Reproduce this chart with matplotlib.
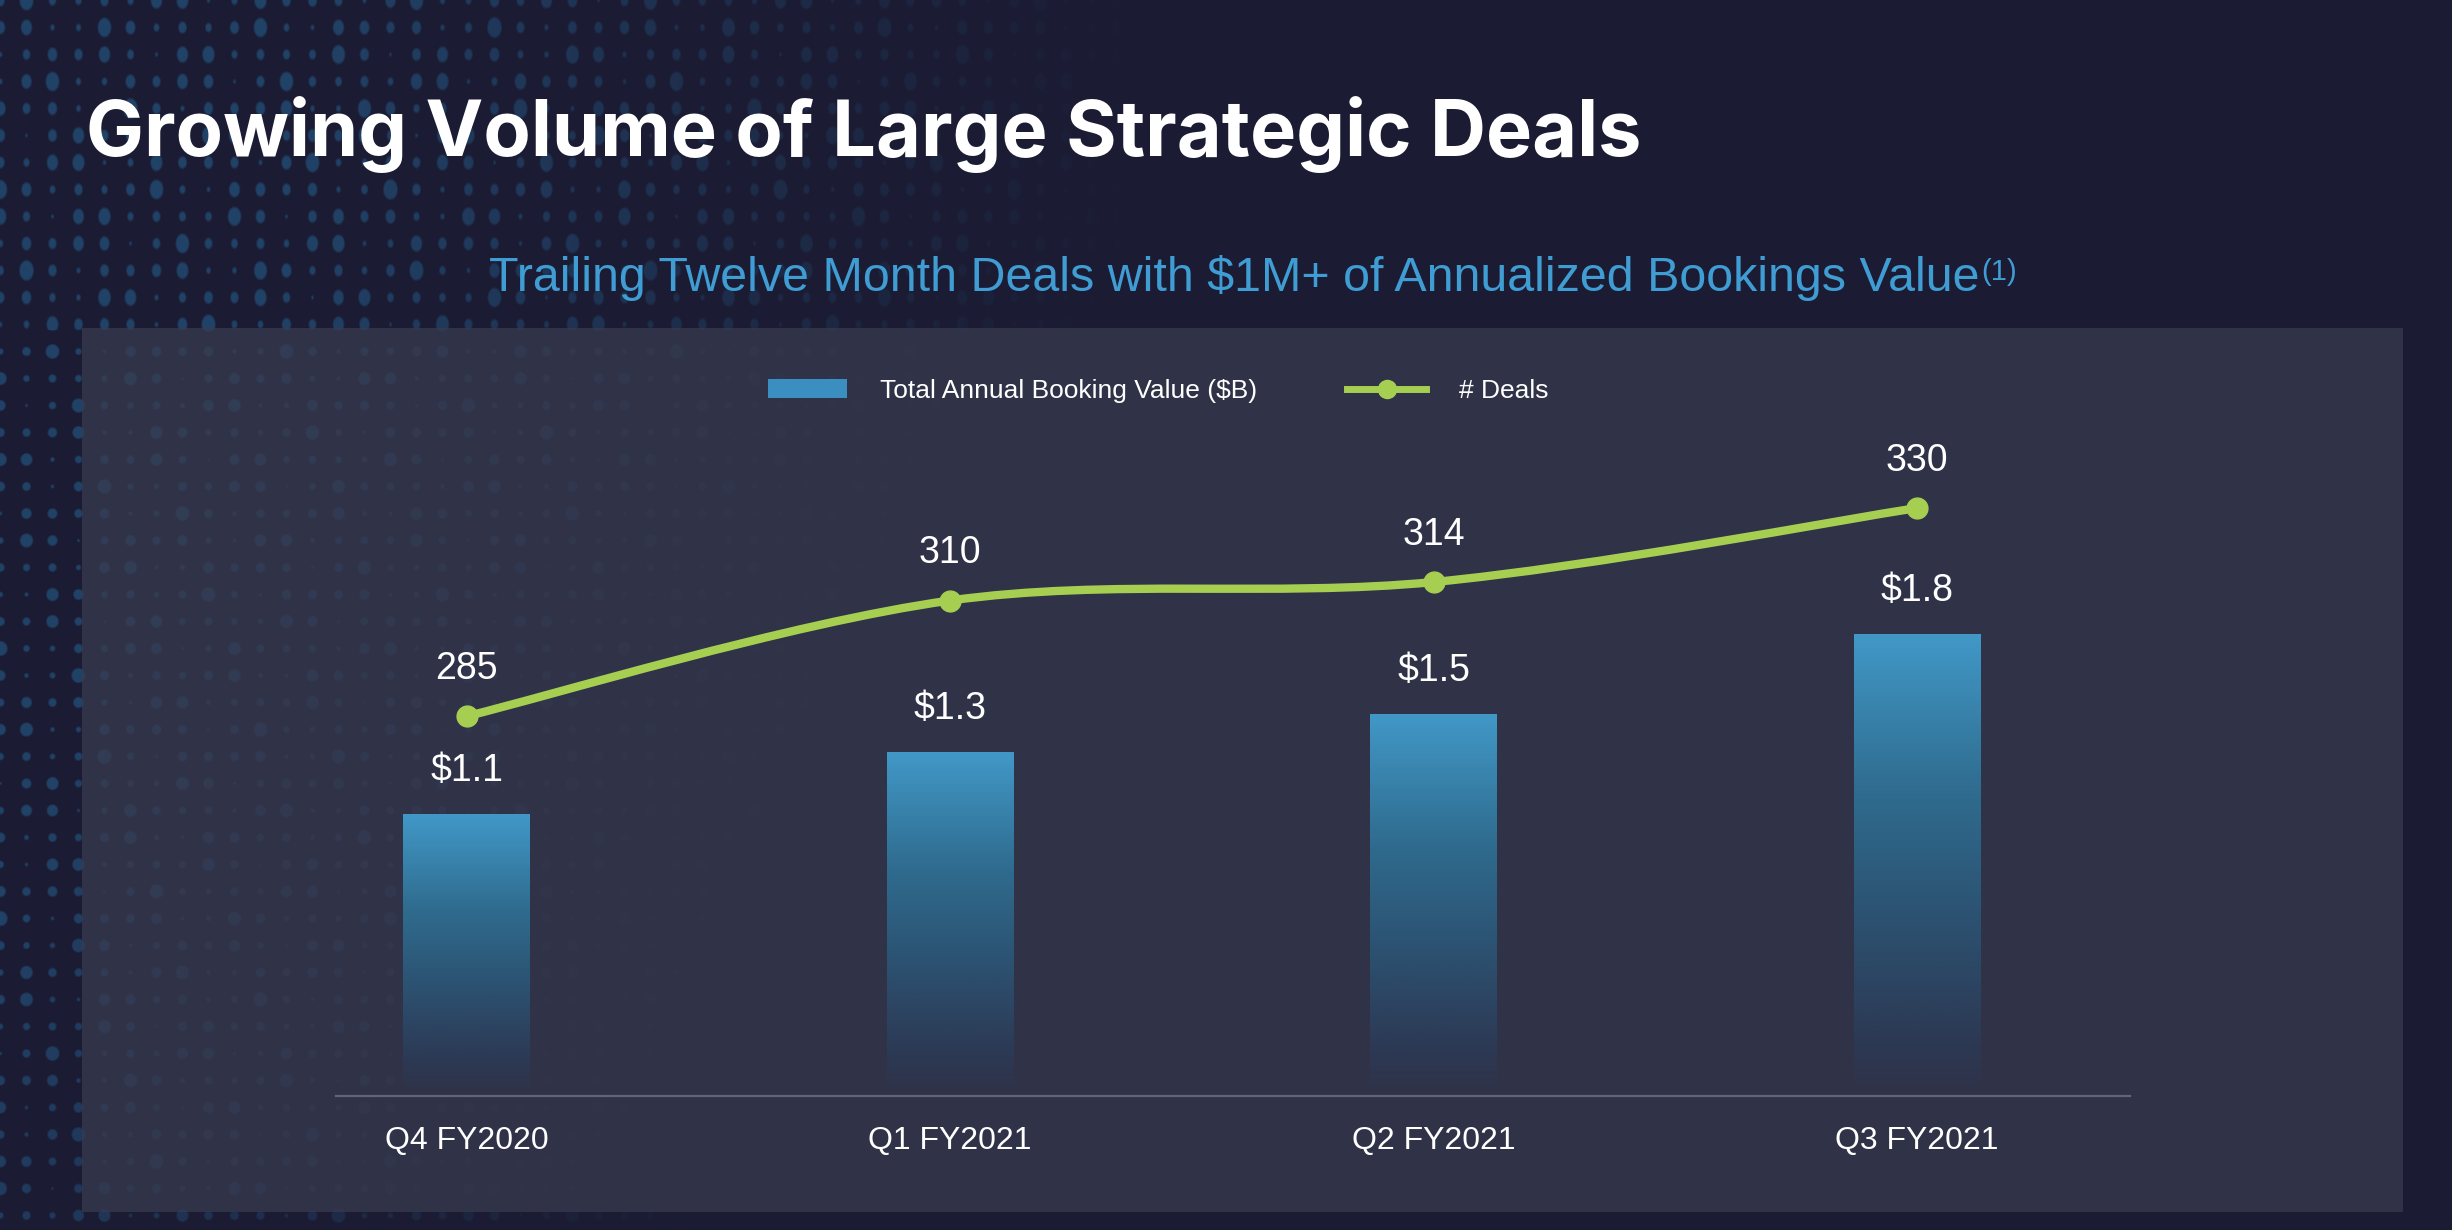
import numpy as np
import matplotlib
matplotlib.use("Agg")
import matplotlib.pyplot as plt
from matplotlib.patches import Rectangle, Patch, PathPatch
from matplotlib.lines import Line2D
from matplotlib.path import Path
from matplotlib.colors import LinearSegmentedColormap

# ---------------- data ----------------
categories = ["Q4 FY2020", "Q1 FY2021", "Q2 FY2021", "Q3 FY2021"]
booking_value = [1.1, 1.34, 1.49, 1.8]          # $B (bar heights as drawn)
bar_labels = ["$1.1", "$1.3", "$1.5", "$1.8"]
deals = [285, 310, 314, 330]

title = "Growing Volume of Large Strategic Deals"
subtitle = "Trailing Twelve Month Deals with $1M+ of Annualized Bookings Value"
legend_labels = ["Total Annual Booking Value ($B)", "# Deals"]

# ---------------- style ----------------
BG = np.array([27, 28, 51]) / 255.0
PANEL = "#393b4f"
GREEN = "#a6cf52"
BLUE_TOP = "#4198c7"
SUB_BLUE = "#3f9dd3"
W, H = 2452, 1230

fig = plt.figure(figsize=(W / 100, H / 100), dpi=100)
fig.patch.set_facecolor(BG)

# decorative dotted background texture
bg_ax = fig.add_axes([0, 0, 1, 1], zorder=-10)
X, Y = np.meshgrid(np.arange(W, dtype=float), np.arange(H, dtype=float))
sx, sy = 26.0, 27.0
gi = np.round(X / sx)
gj = np.round(Y / sy)
dx = X - gi * sx
dy = (Y - gj * sy) * np.where(Y < 330, 0.7, 0.95)
rad = 2.0 + 6.0 * (0.5 + 0.5 * np.sin(gi * 1.7 + gj * 0.6) * np.cos(gj * 1.3 - gi * 0.4))
dist = np.sqrt(dx ** 2 + dy ** 2)
mask = np.clip((rad - dist) / 2.0, 0, 1)
fade = np.clip((1150 - X - 0.45 * np.clip(Y - 250, 0, None)) / 850.0, 0, 1) ** 1.1
inten = (mask * fade * 0.68)[..., None]
DOT = np.array([0.14, 0.33, 0.50])
img = BG[None, None, :] * (1 - inten) + DOT[None, None, :] * inten
bg_ax.imshow(img, extent=[0, W, H, 0], aspect="auto", interpolation="bilinear")
bg_ax.set_axis_off()

# chart panel
panel = Rectangle((82 / W, 1 - 1212 / H), (2403 - 82) / W, (1212 - 328) / H,
                  transform=fig.transFigure, facecolor=PANEL, alpha=0.72,
                  edgecolor="none", zorder=-5)
fig.patches.append(panel)

# titles
ttl = fig.text(86 / W, 1 - 156 / H, title, fontsize=56, fontweight="bold",
               family="Inter", color="white", ha="left", va="baseline")
renderer = fig.canvas.get_renderer()
tw = ttl.get_window_extent(renderer).width
ttl.set_fontsize(56 * 1556 / tw)

sub = fig.text(489 / W, 1 - 291 / H, subtitle, fontsize=34.8,
               family="Liberation Sans", color=SUB_BLUE, ha="left", va="baseline")
plt.annotate("(1)", xy=(1, 1), xycoords=sub, xytext=(1, -2), textcoords="offset points",
             fontsize=21, family="Liberation Sans", color=SUB_BLUE, ha="left", va="top")

# main axes
ax = fig.add_axes([336 / W, 1 - 1096 / H, (2130 - 336) / W, (1096 - 378) / H])
ax.set_facecolor("none")
x = np.arange(len(categories))
bar_w = 0.262
bars = ax.bar(x, booking_value, width=bar_w, color="none", edgecolor="none")

cmap = LinearSegmentedColormap.from_list(
    "barfade", [(0.0, "#2f3349"), (0.12, "#2c3a55"), (0.35, "#2c4f6e"),
                (0.65, "#2f6b8e"), (1.0, BLUE_TOP)])
grad = np.linspace(1, 0, 256)[:, None]
for b in bars:
    bx, bw, bh = b.get_x(), b.get_width(), b.get_height()
    ax.imshow(grad, extent=[bx, bx + bw, 0.02, bh], cmap=cmap, vmin=0, vmax=1,
              aspect="auto", interpolation="bicubic", zorder=2)

ax.set_xlim(-0.27, 3.44)
ax.set_ylim(0, 2.8)
for s in ["top", "right", "left"]:
    ax.spines[s].set_visible(False)
ax.spines["bottom"].set_color("#62647a")
ax.spines["bottom"].set_linewidth(1.6)
ax.set_yticks([])
ax.set_xticks(x, categories)
ax.tick_params(axis="x", length=0, pad=21.5, labelsize=23, labelcolor="white")
for lbl in ax.get_xticklabels():
    lbl.set_family("Liberation Sans")

for xi, v, t in zip(x, booking_value, bar_labels):
    ax.annotate(t, (xi, v), xytext=(0, 31), textcoords="offset points",
                ha="center", va="center", fontsize=27, color="white",
                family="Liberation Sans", zorder=5)

# secondary axis: deals (smooth line)
ax2 = ax.twinx()
ax2.set_ylim(202.9, 358.1)
ax2.set_axis_off()

pts = np.column_stack([x, deals]).astype(float)
ext = np.vstack([pts[0], pts, pts[-1]])
verts = [tuple(pts[0])]
codes = [Path.MOVETO]
for i in range(len(pts) - 1):
    p0, p1, p2, p3 = ext[i], ext[i + 1], ext[i + 2], ext[i + 3]
    c1 = p1 + (p2 - p0) / 6.0
    c2 = p2 - (p3 - p1) / 6.0
    verts += [tuple(c1), tuple(c2), tuple(p2)]
    codes += [Path.CURVE4] * 3
ax2.add_patch(PathPatch(Path(verts, codes), facecolor="none", edgecolor=GREEN,
                        lw=6, capstyle="round", zorder=4))
ax2.plot(x, deals, linestyle="none", marker="o", markersize=15,
         color=GREEN, zorder=5)
for xi, v in zip(x, deals):
    ax2.annotate(str(v), (xi, v), xytext=(0, 34), textcoords="offset points",
                 ha="center", va="center", fontsize=27, color="white",
                 family="Liberation Sans")

# legend
handles = [Patch(facecolor="#3b8fc0", edgecolor="none"),
           Line2D([0], [0], color=GREEN, lw=5, marker="o", markersize=13)]
leg = fig.legend(handles, legend_labels, loc="center left",
                 bbox_to_anchor=(768 / W, 1 - 391 / H), ncol=2, frameon=False,
                 prop={"family": "Liberation Sans", "size": 19},
                 handlelength=3.0, handleheight=0.75, handletextpad=1.25,
                 columnspacing=3.4, borderpad=0, borderaxespad=0)
for t in leg.get_texts():
    t.set_color("white")

fig.savefig("out.png", dpi=100, facecolor=fig.get_facecolor())
